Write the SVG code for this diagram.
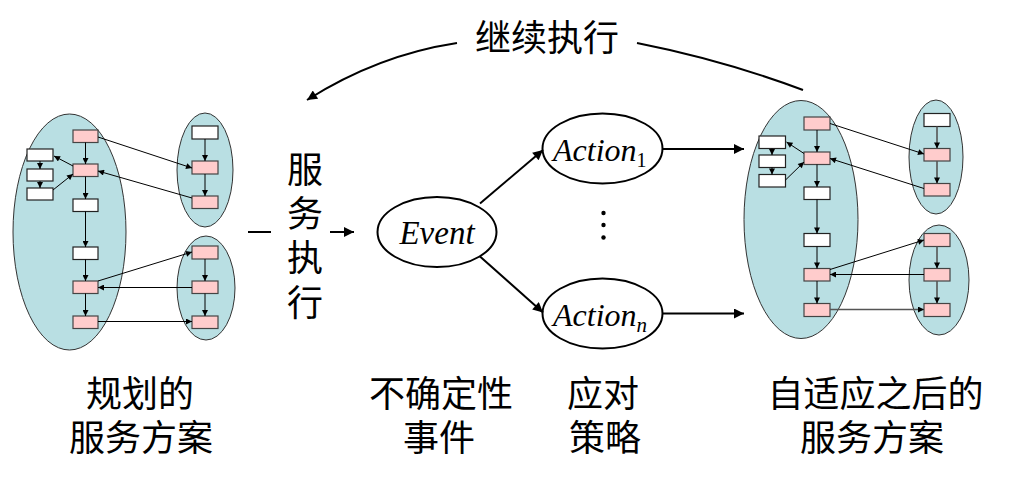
<svg xmlns="http://www.w3.org/2000/svg" width="1012" height="481" viewBox="0 0 1012 481">
<style>
.cl{fill:#B9DFE3;stroke:#333;stroke-width:1}
.pk{fill:#FFCCCC;stroke:#444;stroke-width:1.2}
.wh{fill:#FFFFFF;stroke:#222;stroke-width:1.2}
.sl{stroke:#000;stroke-width:1;fill:none;marker-end:url(#sa)}
.gl{stroke:#555;stroke-width:1.6;fill:none;marker-end:url(#sa)}
.bl{stroke:#000;stroke-width:2;fill:none;marker-end:url(#ba)}
.nd{fill:#fff;stroke:#000;stroke-width:2}
.cjk{font-family:"Noto Sans CJK SC","Noto Sans CJK JP",sans-serif;font-size:36px;fill:#000;text-anchor:middle}
.en{font-family:"Liberation Serif","Times New Roman",serif;font-style:italic;fill:#000}
</style>
<defs>
<marker id="sa" viewBox="0 0 10 10" refX="10" refY="5" markerWidth="7" markerHeight="6" markerUnits="userSpaceOnUse" orient="auto"><path d="M0,0 L10,5 L0,10 z" fill="#000"/></marker>
<marker id="ba" viewBox="0 0 10 10" refX="10" refY="5" markerWidth="13" markerHeight="10" markerUnits="userSpaceOnUse" orient="auto"><path d="M0,0 L10,5 L0,10 z" fill="#000"/></marker>
</defs>

<g id="plan-left">
<ellipse class="cl" cx="69.5" cy="232" rx="56.5" ry="118"/>
<ellipse class="cl" cx="205" cy="170" rx="28" ry="57"/>
<ellipse class="cl" cx="206" cy="288" rx="29" ry="52"/>
<rect class="pk" x="73" y="130" width="25" height="12.5"/>
<rect class="pk" x="73" y="164" width="25" height="12.5"/>
<rect class="wh" x="73" y="199" width="25" height="12.5"/>
<rect class="wh" x="73" y="247" width="25" height="12.5"/>
<rect class="pk" x="73" y="281" width="25" height="12.5"/>
<rect class="pk" x="73" y="316" width="25" height="12.5"/>
<rect class="wh" x="27" y="149" width="26" height="12"/>
<rect class="wh" x="27" y="169" width="26" height="12"/>
<rect class="wh" x="27" y="188" width="26" height="12"/>
<rect class="wh" x="192" y="126" width="26" height="13"/>
<rect class="pk" x="192" y="161" width="26" height="13"/>
<rect class="pk" x="192" y="196" width="26" height="12.5"/>
<rect class="pk" x="192" y="246" width="26" height="13"/>
<rect class="pk" x="192" y="281" width="26" height="12.5"/>
<rect class="pk" x="192" y="316" width="26" height="12.5"/>
</g>

<g id="plan-right">
<ellipse class="cl" cx="801" cy="219.5" rx="57" ry="119"/>
<ellipse class="cl" cx="936" cy="157" rx="27" ry="57"/>
<ellipse class="cl" cx="939" cy="280" rx="30" ry="55"/>
<rect class="pk" x="804" y="117" width="26" height="13"/>
<rect class="pk" x="804" y="152" width="26" height="12.5"/>
<rect class="wh" x="804" y="187" width="26" height="12.5"/>
<rect class="wh" x="804" y="233.5" width="26" height="13"/>
<rect class="pk" x="804" y="268.5" width="26" height="12.5"/>
<rect class="pk" x="804" y="303.5" width="26" height="13"/>
<rect class="wh" x="759" y="136" width="26.5" height="12.5"/>
<rect class="wh" x="759" y="155" width="26.5" height="12.5"/>
<rect class="wh" x="759" y="174.5" width="26.5" height="12.5"/>
<rect class="wh" x="924" y="113.5" width="26" height="13"/>
<rect class="pk" x="924" y="148.5" width="26" height="12.5"/>
<rect class="pk" x="924" y="183.5" width="26" height="12.5"/>
<rect class="pk" x="924" y="233.5" width="26" height="13"/>
<rect class="pk" x="924" y="268.5" width="26" height="12.5"/>
<rect class="pk" x="924" y="303.5" width="26" height="13"/>
</g>

<g id="event">
<ellipse class="nd" cx="437" cy="232" rx="59.5" ry="35"/>
<text class="en" x="437" y="244" font-size="33" text-anchor="middle">Event</text>
</g>
<g id="action1">
<ellipse class="nd" cx="602.5" cy="148.5" rx="60" ry="35"/>
<text class="en" x="553" y="161" font-size="32">Action<tspan font-style="normal" font-size="20" dy="6">1</tspan></text>
</g>
<g id="actionn">
<ellipse class="nd" cx="602.5" cy="313.5" rx="60" ry="35"/>
<text class="en" x="553" y="326" font-size="32">Action<tspan font-size="21" dy="6">n</tspan></text>
</g>
<g id="dots">
<circle cx="603.5" cy="213" r="2.2" fill="#000"/>
<circle cx="603.5" cy="225" r="2.2" fill="#000"/>
<circle cx="603.5" cy="237.5" r="2.2" fill="#000"/>
</g>

<g id="connectors">
<path class="sl" d="M85.5 142.5 V164"/>
<path class="sl" d="M85.5 176.5 V199"/>
<path class="sl" d="M85.5 211.5 V247"/>
<path class="sl" d="M85.5 259.5 V281"/>
<path class="sl" d="M85.5 293.5 V316"/>
<path class="sl" d="M40 161 V169"/>
<path class="sl" d="M40 181 V188"/>
<path class="sl" d="M73 166 L54 156"/>
<path class="sl" d="M53 190 L73 174"/>
<path class="sl" d="M205 139 V161"/>
<path class="sl" d="M205 174 V196"/>
<path class="sl" d="M98 137 L192 168"/>
<path class="sl" d="M192 198 L98 171"/>
<path class="sl" d="M205 259 V281"/>
<path class="sl" d="M205 293.5 V316"/>
<path class="sl" d="M98 281 L192 252"/>
<path class="sl" d="M192 287.5 L98 287.5"/>
<path class="sl" d="M98 321.5 L192 321.5"/>
<path class="sl" d="M817 130 V152"/>
<path class="sl" d="M817 164.5 V187"/>
<path class="sl" d="M817 199.5 V233.5"/>
<path class="sl" d="M817 246.5 V268.5"/>
<path class="sl" d="M817 281 V303.5"/>
<path class="sl" d="M772 148.5 V155"/>
<path class="sl" d="M772 167.5 V174.5"/>
<path class="sl" d="M804 153.5 L786.5 142"/>
<path class="sl" d="M785.5 180 L804 162"/>
<path class="gl" d="M937 126.5 V148.5"/>
<path class="gl" d="M937 161 V183.5"/>
<path class="sl" d="M830 123.5 L924 154"/>
<path class="sl" d="M924 188.5 L830 158.5"/>
<path class="gl" d="M937 246.5 V268.5"/>
<path class="gl" d="M937 281 V303.5"/>
<path class="sl" d="M830 269.5 L924 240"/>
<path class="sl" d="M924 274.5 L830 274.5"/>
<path class="gl" d="M830 309.5 L924 309.5"/>
<path d="M248 232 H271" stroke="#000" stroke-width="2" fill="none"/>
<path class="bl" d="M330 232 H354"/>
<path class="bl" d="M480 203.5 L543 150"/>
<path class="bl" d="M480 256.5 L543 312.5"/>
<path class="bl" d="M662.5 149 H744"/>
<path class="bl" d="M662.5 313.5 H744"/>
<path d="M803 90 Q723 60 637 43" stroke="#000" stroke-width="2" fill="none"/>
<path class="bl" d="M457 43 Q378 55 307 100"/>
</g>

<g id="labels">
<text class="cjk" x="547" y="51">继续执行</text>
<text class="cjk"><tspan x="305" y="183">服</tspan><tspan x="305" y="227">务</tspan><tspan x="305" y="271">执</tspan><tspan x="305" y="316">行</tspan></text>
<text class="cjk"><tspan x="140" y="407">规划的</tspan><tspan x="141" y="451">服务方案</tspan></text>
<text class="cjk"><tspan x="441" y="407">不确定性</tspan><tspan x="439" y="451">事件</tspan></text>
<text class="cjk"><tspan x="603" y="407">应对</tspan><tspan x="605" y="451">策略</tspan></text>
<text class="cjk"><tspan x="875.5" y="407">自适应之后的</tspan><tspan x="872" y="451">服务方案</tspan></text>
</g>
</svg>
